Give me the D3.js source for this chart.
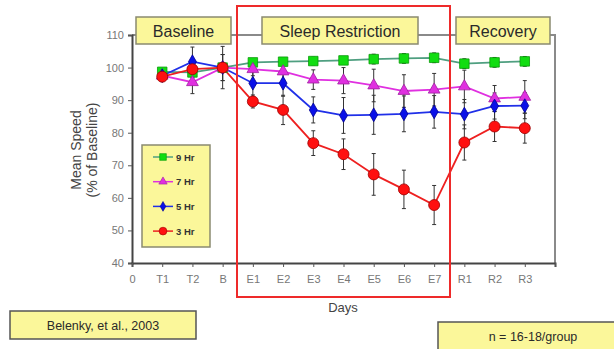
<!DOCTYPE html>
<html>
<head>
<meta charset="utf-8">
<script src="https://cdn.jsdelivr.net/npm/d3@7"></script>
<style>
  body { margin: 0; background: #fff; }
  svg { display: block; font-family: "Liberation Sans", Arial, sans-serif; }
</style>
</head>
<body>
<svg id="chart" width="614" height="349"></svg>
<script>
// tick labels along the x axis (0 is only a label)
const tickLabels = ["0", "T1", "T2", "B", "E1", "E2", "E3", "E4", "E5", "E6", "E7", "R1", "R2", "R3"];
const days = tickLabels.slice(1);
const yTicks = [40, 50, 60, 70, 80, 90, 100, 110];

// mean speed, % of baseline
const nineHr  = [98.7, 98.5, 100, 101.6, 101.8, 102, 102.2, 102.6, 102.8, 103, 101.2, 101.6, 101.9];
const sevenHr = [97.5, 95.5, 100, 99.5, 98.8, 96.3, 96, 94.5, 92.8, 93.2, 94.2, 90.5, 91];
const fiveHr  = [97.5, 101.8, 100, 95.2, 95.2, 87, 85.3, 85.5, 85.8, 86.4, 85.7, 88.2, 88.3];
const threeHr = [97.2, 99.5, 100, 89.6, 87, 76.8, 73.4, 67.2, 62.6, 57.8, 77, 81.9, 81.4];

// error bar half-widths
const nineErr  = [1, 1.5, 1, 1, 1, 1.2, 1.2, 1.5, 1.5, 1.5, 1.5, 1.5, 1.5];
const sevenErr = [1.5, 3.5, 4, 2, 2.5, 3, 4, 5, 5, 5, 5, 4, 5];
const fiveErr  = [1.5, 4.5, 4, 4, 4, 4, 5.5, 6, 5.5, 5, 4.5, 4, 4];
const threeErr = [1.5, 2, 6.5, 2, 4.5, 3.8, 4.7, 6.4, 5.9, 6, 5.4, 4.6, 4.6];

const phases = ["Baseline", "Sleep Restriction", "Recovery"];

const series = [
  {name: "9 Hr", values: nineHr, err: nineErr, line: "#4f9f80", fill: "#11dd11", stroke: "#0a9a0a", shape: d3.symbolSquare, size: 90},
  {name: "7 Hr", values: sevenHr, err: sevenErr, line: "#e030e0", fill: "#e030e0", stroke: "#a020a0", shape: d3.symbolTriangle, size: 60},
  {name: "5 Hr", values: fiveHr, err: fiveErr, line: "#2030e8", fill: "#0a10e8", stroke: "#000090", shape: d3.symbolDiamond, size: 55},
  {name: "3 Hr", values: threeHr, err: threeErr, line: "#ee2020", fill: "#ff1010", stroke: "#9a0000", shape: d3.symbolCircle, size: 95}
];

const svg = d3.select("#chart");
const x = d3.scaleLinear().domain([0, 14]).range([132, 555]);
const y = d3.scaleLinear().domain([40, 110]).range([263, 35]);

// frame top and right
svg.append("path")
  .attr("d", `M${x(0)},${y(110)}H${x(14)}V${y(40)}`)
  .attr("fill", "none").attr("stroke", "#8a8a8a").attr("stroke-width", 2);

// axes
const yAxis = svg.append("g")
  .attr("transform", `translate(${x(0)},0)`)
  .call(d3.axisLeft(y).tickValues(yTicks).tickSize(4).tickPadding(4));
const xAxis = svg.append("g")
  .attr("transform", `translate(0,${y(40)})`)
  .call(d3.axisBottom(x).tickValues(d3.range(0, 15)).tickSize(4).tickPadding(8)
    .tickFormat(i => tickLabels[i] || ""));
[yAxis, xAxis].forEach(g => {
  g.select(".domain").attr("stroke", "#444").attr("stroke-width", 2);
  g.selectAll(".tick line").attr("stroke", "#555");
  g.selectAll(".tick text").attr("fill", "#777").attr("font-size", 11)
    .attr("font-family", "Liberation Sans, Arial, sans-serif");
});

svg.append("text")
  .attr("x", 343).attr("y", 312).attr("text-anchor", "middle")
  .attr("font-size", 13).attr("fill", "#444").text("Days");
const yl = svg.append("text")
  .attr("transform", "translate(81,150) rotate(-90)")
  .attr("text-anchor", "middle").attr("font-size", 14).attr("fill", "#444");
yl.append("tspan").attr("x", 0).attr("dy", 0).text("Mean Speed");
yl.append("tspan").attr("x", 0).attr("dy", 16).text("(% of Baseline)");

// error bars
series.forEach(s => {
  const g = svg.append("g").attr("stroke", "#333").attr("stroke-width", 1);
  s.values.forEach((v, i) => {
    const cx = x(i + 1);
    g.append("line").attr("x1", cx).attr("x2", cx)
      .attr("y1", y(v - s.err[i])).attr("y2", y(v + s.err[i]));
    [v - s.err[i], v + s.err[i]].forEach(e => {
      g.append("line").attr("x1", cx - 2).attr("x2", cx + 2)
        .attr("y1", y(e)).attr("y2", y(e));
    });
  });
});

// lines and markers
const line = d3.line().x((d, i) => x(i + 1)).y(d => y(d));
series.forEach(s => {
  svg.append("path").datum(s.values)
    .attr("d", line).attr("fill", "none")
    .attr("stroke", s.line).attr("stroke-width", 1.8);
});
series.forEach(s => {
  svg.append("g").selectAll("path").data(s.values).join("path")
    .attr("transform", (d, i) => `translate(${x(i + 1)},${y(d)})`)
    .attr("d", d3.symbol().type(s.shape).size(s.size))
    .attr("fill", s.fill).attr("stroke", s.stroke).attr("stroke-width", 0.8);
});

// phase labels
const yellow = "#fbf79a";
const phaseBoxes = [[136, 231], [262, 418], [456, 550]];
phases.forEach((p, i) => {
  const [a, b] = phaseBoxes[i];
  svg.append("rect").attr("x", a).attr("y", 17).attr("width", b - a).attr("height", 27)
    .attr("fill", yellow).attr("stroke", "#8a8a70").attr("stroke-width", 1.5);
  svg.append("text").attr("x", (a + b) / 2).attr("y", 36.5).attr("text-anchor", "middle")
    .attr("font-size", 16).attr("fill", "#2a2a2a").text(p);
});

// sleep restriction frame
svg.append("rect").attr("x", 237).attr("y", 6).attr("width", 213).attr("height", 291)
  .attr("fill", "none").attr("stroke", "#ee2a2a").attr("stroke-width", 2);

// legend
svg.append("rect").attr("x", 142).attr("y", 145).attr("width", 68).attr("height", 102)
  .attr("fill", yellow).attr("stroke", "#8a8a70").attr("stroke-width", 1.5);
series.forEach((s, i) => {
  const ly = 157 + i * 24.7;
  svg.append("line").attr("x1", 153).attr("x2", 173).attr("y1", ly).attr("y2", ly)
    .attr("stroke", s.line).attr("stroke-width", 1.5);
  svg.append("path").attr("transform", `translate(163,${ly})`)
    .attr("d", d3.symbol().type(s.shape).size(s.size * 0.5))
    .attr("fill", s.fill).attr("stroke", s.stroke).attr("stroke-width", 0.6);
  svg.append("text").attr("x", 176).attr("y", ly + 3.5).attr("font-size", 9.5)
    .attr("font-weight", "bold").attr("fill", "#333").text(s.name);
});

// notes
svg.append("rect").attr("x", 10).attr("y", 311).attr("width", 186).attr("height", 28)
  .attr("fill", yellow).attr("stroke", "#555").attr("stroke-width", 1.5);
svg.append("text").attr("x", 103).attr("y", 330).attr("text-anchor", "middle")
  .attr("font-size", 12.5).attr("fill", "#2a2a2a").text("Belenky, et al., 2003");
svg.append("rect").attr("x", 438).attr("y", 322).attr("width", 190).attr("height", 32)
  .attr("fill", yellow).attr("stroke", "#555").attr("stroke-width", 1.5);
svg.append("text").attr("x", 533).attr("y", 341).attr("text-anchor", "middle")
  .attr("font-size", 12.5).attr("fill", "#2a2a2a").text("n = 16-18/group");
</script>
</body>
</html>
